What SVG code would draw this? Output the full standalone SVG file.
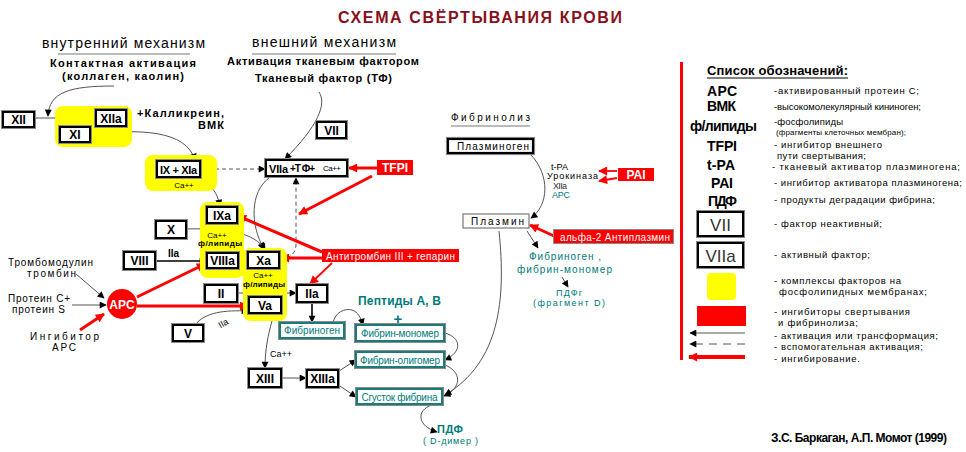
<svg xmlns="http://www.w3.org/2000/svg" width="966" height="452" viewBox="0 0 966 452">
<style>
text{font-family:"Liberation Sans",Arial,sans-serif;fill:#000}
.b{font-weight:bold}
.box{fill:#fff;stroke:#000;stroke-width:2;filter:url(#edge)}
.tbox{fill:#fff;stroke:#1a7a7a;stroke-width:2;filter:url(#edge)}
.yel{fill:#ffff00}
.red{fill:#ff0000}
.fl{font-weight:bold;font-size:12px;text-anchor:middle}
.sm{font-size:8px;text-anchor:middle}
.ln{fill:none;stroke:#555;stroke-width:1}
.blk{fill:none;stroke:#000;stroke-width:1.6}
.rl{fill:none;stroke:#ff0000;stroke-width:3}
.rt{fill:none;stroke:#ff0000;stroke-width:1.8}
.dsh{fill:none;stroke:#555;stroke-width:1;stroke-dasharray:4 3}
.teal{fill:#007a7a}
.tl{font-size:10px;fill:#007a7a}
.lg{font-size:9.5px}
.wt{fill:#fff}
.lbl{font-size:10px}
</style>
<defs>
<filter id="edge" x="-20%" y="-30%" width="140%" height="160%">
<feMorphology in="SourceAlpha" operator="dilate" radius="1.1" result="d"/>
<feFlood flood-color="#8a8a8a"/>
<feComposite in2="d" operator="in"/>
<feMerge><feMergeNode/><feMergeNode in="SourceGraphic"/></feMerge>
</filter>
<marker id="ab" viewBox="0 0 10 10" refX="9" refY="5" markerWidth="9" markerHeight="7" markerUnits="userSpaceOnUse" orient="auto-start-reverse"><path d="M0,0 L10,5 L0,10 z" fill="#000"/></marker>
<marker id="ar" viewBox="0 0 10 10" refX="9" refY="5" markerWidth="13" markerHeight="9" markerUnits="userSpaceOnUse" orient="auto-start-reverse"><path d="M0,0 L10,5 L0,10 z" fill="#ff0000"/></marker>
</defs>
<rect width="966" height="452" fill="#fff"/>

<text x="480" y="23" class="b" font-size="16" text-anchor="middle" textLength="284" style="fill:#861020">СХЕМА СВЁРТЫВАНИЯ КРОВИ</text>

<g id="headers">
<text x="42" y="48" font-size="14" textLength="163">внутренний механизм</text>
<line x1="58" y1="54" x2="190" y2="54" stroke="#777" stroke-width="1"/>
<text x="50" y="67" class="b" font-size="11" textLength="146">Контактная активация</text>
<text x="62" y="80" class="b" font-size="11" textLength="122">(коллаген, каолин)</text>
<text x="252" y="47" font-size="14" textLength="144">внешний механизм</text>
<line x1="252" y1="54" x2="396" y2="54" stroke="#777" stroke-width="1"/>
<text x="227" y="65" class="b" font-size="11" textLength="192">Активация тканевым фактором</text>
<text x="255" y="82" class="b" font-size="11" textLength="137">Тканевый фактор (ТФ)</text>
</g>

<g id="connectors">
<path class="ln" d="M114,86 C70,86 49,92 48,116" marker-end="url(#ab)"/>
<path class="ln" d="M34,118 L95,118" marker-end="url(#ab)"/>
<path class="ln" d="M91,134 C140,129 186,130 195,160" marker-start="url(#ab)" marker-end="url(#ab)"/>
<path class="ln" d="M319,92 C327,104 318,126 285,159" marker-end="url(#ab)"/>
<path class="dsh" d="M201,169 L265,169" marker-start="url(#ab)" marker-end="url(#ab)"/>
<path class="dsh" d="M287,258 Q296,254 296,244 L296,178" marker-end="url(#ab)"/>
<path class="ln" d="M269,178 C250,192 250,225 264,249" marker-end="url(#ab)"/>
<path class="ln" d="M186,229 C225,228 255,232 265,250" marker-end="url(#ab)"/>
<path class="ln" d="M180,178 C205,178 216,186 220,206" marker-end="url(#ab)"/>
<path class="blk" d="M155,261 L206,261" marker-end="url(#ab)"/>
<path class="ln" d="M76,274 L104,298" marker-end="url(#ab)"/>
<path class="ln" d="M72,305 L106,305" marker-end="url(#ab)"/>
<path class="ln" d="M195,325 C205,312 225,310 248,311" marker-end="url(#ab)"/>
<path class="ln" d="M237,293 L296,293" marker-end="url(#ab)"/>
<path class="blk" d="M312,302 L312,322" stroke-width="2" marker-end="url(#ab)"/>
<path class="ln" d="M272,321 C268,335 265,350 265,368" marker-end="url(#ab)"/>
<path class="ln" d="M281,378 L306,378" marker-end="url(#ab)"/>
<path class="ln" d="M339,371 L356,360" marker-end="url(#ab)"/>
<path class="ln" d="M340,386 L356,397" marker-end="url(#ab)"/>
<path class="ln" d="M333,323 C335,312 345,308 352,310 C358,312 361,318 363,325" marker-end="url(#ab)"/>
<path class="ln" d="M445,333 C462,338 462,352 445,360" marker-end="url(#ab)"/>
<path class="ln" d="M445,365 C462,372 462,388 444,396" marker-end="url(#ab)"/>
<path class="ln" d="M432,405 C416,410 417,426 437,432" marker-end="url(#ab)"/>
<path class="ln" d="M499,231 C506,300 500,362 445,395" marker-end="url(#ab)"/>
<path class="ln" d="M531,155 C550,175 549,205 531,218" marker-end="url(#ab)"/>
<path class="ln" d="M527,231 L538,248" marker-end="url(#ab)"/>
<path class="ln" d="M562,277 L568,287" marker-end="url(#ab)"/>
<path class="rl" d="M377,168 L349,168" marker-end="url(#ar)"/>
<path class="rl" d="M372,176 L299,214" marker-end="url(#ar)"/>
<path class="rl" d="M137,297 L205,264" marker-end="url(#ar)"/>
<path class="rl" d="M137,306 L248,306" marker-end="url(#ar)"/>
<path class="rl" d="M80,330 L104,314" marker-end="url(#ar)"/>
<path class="rl" d="M322,252 L238,216" marker-end="url(#ar)"/>
<path class="rl" d="M322,258 L281,258" marker-end="url(#ar)"/>
<path class="rt" d="M332,263 L310,284" marker-end="url(#ar)"/>
<path class="rt" d="M617,171 L599,171" marker-end="url(#ar)"/>
<path class="rt" d="M617,178 L599,181" marker-end="url(#ar)"/>
<path class="rl" d="M554,236 L530,225" marker-end="url(#ar)"/>
</g>

<g id="n-XII"><rect class="box" x="3" y="112" width="31" height="15"/><text class="fl" x="18.5" y="124">XII</text></g>
<g id="n-XIIa-XI">
<rect class="yel" x="55" y="106" width="77" height="41" rx="8"/>
<rect class="box" x="96" y="110" width="30" height="16"/><text class="fl" x="111" y="122.5">XIIa</text>
<rect class="box" x="60" y="127" width="30" height="15"/><text class="fl" x="75" y="139">XI</text>
</g>
<g id="n-kallikrein">
<text x="137" y="117" class="b" font-size="11" textLength="87">+Калликреин,</text>
<text x="198" y="129" class="b" font-size="11" textLength="26">ВМК</text>
</g>
<g id="n-IX-XIa">
<rect class="yel" x="145" y="155" width="72" height="36" rx="8"/>
<rect class="box" x="157" y="161" width="43" height="16"/><text x="160" y="173.5" class="b" font-size="11" textLength="37">IX + XIa</text>
<text class="sm" x="184" y="188">Ca++</text>
</g>
<g id="n-VII"><rect class="box" x="317" y="122" width="29" height="16"/><text class="fl" x="331.5" y="134.5">VII</text></g>
<g id="n-VIIa-TF">
<rect class="box" x="266" y="160" width="81" height="16"/>
<text x="269" y="172.5" class="b" font-size="11" textLength="19">VIIa</text>
<text x="290" y="172" class="b" font-size="10" textLength="25">+Т Ф+</text>
<text x="323" y="171" font-size="8" textLength="18">Ca++</text>
</g>
<g id="n-TFPI"><rect class="red" x="377" y="160" width="36" height="15"/><text class="fl wt" x="395" y="172">TFPI</text></g>
<g id="n-complex">
<rect class="yel" x="200" y="202" width="44" height="76" rx="8"/>
<rect class="yel" x="243" y="248" width="44" height="73" rx="8"/>
<rect class="yel" x="236" y="250" width="12" height="26"/>
<rect class="box" x="207" y="207" width="30" height="16"/><text class="fl" x="222" y="219.5">IXa</text>
<text class="sm" x="217" y="238">Ca++</text>
<text x="198" y="246" class="b" font-size="8" textLength="44">ф/липиды</text>
<rect class="box" x="207" y="253" width="31" height="15"/><text class="fl" x="222.5" y="265">VIIIa</text>
<rect class="box" x="248" y="252" width="31" height="16"/><text class="fl" x="263.5" y="264.5">Xa</text>
<text class="sm" x="263" y="278">Ca++</text>
<text x="243" y="287" class="b" font-size="8" textLength="42">ф/липиды</text>
<rect class="box" x="249" y="297" width="32" height="16"/><text class="fl" x="265" y="309.5">Va</text>
</g>
<g id="n-X"><rect class="box" x="156" y="221" width="30" height="17"/><text class="fl" x="171" y="234">X</text></g>
<g id="n-VIII"><rect class="box" x="124" y="252" width="31" height="17"/><text class="fl" x="139.5" y="265">VIII</text>
<text x="168" y="257" class="b" font-size="10">IIa</text></g>
<g id="n-II"><rect class="box" x="205" y="285" width="32" height="17"/><text class="fl" x="221" y="298">II</text></g>
<g id="n-IIa"><rect class="box" x="297" y="285" width="30" height="17"/><text class="fl" x="312" y="298">IIa</text></g>
<g id="n-V"><rect class="box" x="173" y="325" width="30" height="16"/><text class="fl" x="188" y="337.5">V</text>
<text x="218" y="327" font-size="9" transform="rotate(-30 222 323)">IIa</text></g>
<g id="n-APC"><circle cx="122" cy="304" r="15" fill="#ff0000"/><text class="fl wt" x="122" y="308.5">APC</text></g>
<g id="n-regulators">
<text x="8" y="266" class="lbl" textLength="85">Тромбомодулин</text>
<text x="27" y="277" class="lbl" textLength="49">тромбин</text>
<text x="8" y="302" class="lbl" textLength="62">Протеин С+</text>
<text x="12" y="313" class="lbl" textLength="53">протеин S</text>
<text x="30" y="340" class="lbl" textLength="69">Ингибитор</text>
<text x="52" y="351" class="lbl" textLength="24">АРС</text>
</g>
<g id="n-AT"><rect class="red" x="322" y="249" width="137" height="13"/><text x="326" y="259.5" class="wt" font-size="10" textLength="129">Антитромбин III + гепарин</text></g>
<g id="n-peptides">
<text x="358" y="305" class="b teal" font-size="12" textLength="83">Пептиды А, В</text>
<text x="398" y="324" class="b teal" font-size="15" text-anchor="middle">+</text>
</g>
<g id="n-fibrinogen"><rect class="tbox" x="280" y="323" width="64" height="15"/><text class="tl" x="312" y="334" text-anchor="middle" textLength="56">Фибриноген</text></g>
<g id="n-fmono"><rect class="tbox" x="356" y="325" width="88" height="16"/><text class="tl" x="400" y="337" text-anchor="middle" textLength="78">Фибрин-мономер</text></g>
<g id="n-folig"><rect class="tbox" x="356" y="352" width="88" height="15"/><text class="tl" x="400" y="363.5" text-anchor="middle" textLength="80">Фибрин-олигомер</text></g>
<g id="n-XIII"><rect class="box" x="249" y="369" width="32" height="18"/><text class="fl" x="265" y="382.5">XIII</text>
<text x="270" y="357" font-size="9">Ca++</text></g>
<g id="n-XIIIa"><rect class="box" x="307" y="370" width="31" height="17"/><text class="fl" x="322.5" y="383">XIIIa</text></g>
<g id="n-clot"><rect class="tbox" x="357" y="389" width="85" height="15"/><text class="tl" x="399.5" y="400.5" text-anchor="middle" textLength="76">Сгусток фибрина</text></g>
<g id="n-PDF">
<text x="437" y="433" class="b teal" font-size="11" textLength="26">ПДФ</text>
<text x="423" y="444" font-size="9" textLength="55" style="fill:#007a7a">( D-димер )</text>
</g>

<g id="n-fibrinolysis">
<text x="451" y="121" font-size="10" textLength="79">Фибринолиз</text>
<line x1="451" y1="126" x2="530" y2="126" stroke="#777" stroke-width="1"/>
</g>
<g id="n-plasminogen"><rect x="448" y="139" width="85" height="14" fill="#fff" stroke="#000" stroke-width="2.2" style="filter:url(#edge)"/><text x="457" y="150" font-size="10" textLength="72">Плазминоген</text></g>
<g id="n-activators">
<text x="551" y="170" font-size="9" textLength="17">t-PA</text>
<text x="547" y="179" font-size="9" textLength="51">Урокиназа</text>
<text x="553" y="189" font-size="9" textLength="14" style="fill:#333">XIIa</text>
<text x="552" y="198" font-size="9" textLength="18" style="fill:#007a7a">APC</text>
</g>
<g id="n-PAI"><rect class="red" x="618" y="168" width="36" height="13"/><text class="fl wt" x="636" y="179" font-size="13">PAI</text></g>
<g id="n-plasmin"><rect x="463" y="214" width="66" height="14" fill="#fff" stroke="#777" stroke-width="1.2"/><text x="471" y="225" font-size="10" textLength="53">Плазмин</text></g>
<g id="n-antiplasmin"><rect class="red" x="554" y="230" width="119" height="13" style="filter:url(#edge)"/><text x="560" y="240.5" class="wt" font-size="10" textLength="110">альфа-2 Антиплазмин</text></g>
<g id="n-fdp-products">
<text x="529" y="260" class="tl" textLength="72">Фибриноген ,</text>
<text x="517" y="273" class="tl" textLength="95">фибрин-мономер</text>
<text x="556" y="296" font-size="9" textLength="26" style="fill:#007a7a">ПДФг</text>
<text x="533" y="306" font-size="9" textLength="72" style="fill:#007a7a">(фрагмент D)</text>
</g>

<g id="legend">
<rect x="680" y="62" width="3" height="298" fill="#ff0000"/>
<text x="707" y="75" class="b" font-size="13" textLength="141">Список обозначений:</text>
<line x1="707" y1="78" x2="848" y2="78" stroke="#000" stroke-width="1"/>
<g class="b" font-size="14">
<text x="707" y="96" textLength="30">АРС</text>
<text x="707" y="111" textLength="29">ВМК</text>
<text x="690" y="131" textLength="67">ф/липиды</text>
<text x="707" y="151" textLength="30">TFPI</text>
<text x="707" y="170" textLength="28">t-PA</text>
<text x="711" y="188" textLength="22">PAI</text>
<text x="708" y="206" textLength="29">ПДФ</text>
</g>
<rect x="698" y="212" width="45" height="24" fill="#fff" stroke="#000" stroke-width="2" style="filter:url(#edge)"/>
<text x="720.5" y="231" font-size="17" text-anchor="middle" style="fill:#333">VII</text>
<rect x="698" y="243" width="45" height="24" fill="#fff" stroke="#000" stroke-width="2" style="filter:url(#edge)"/>
<text x="720.5" y="262" font-size="17" text-anchor="middle" style="fill:#333">VIIa</text>
<rect class="yel" x="707" y="273" width="29" height="27" rx="4"/>
<rect class="red" x="697" y="306" width="49" height="20"/>
<line x1="745" y1="333" x2="690" y2="333" stroke="#555" stroke-width="1" marker-end="url(#ab)"/>
<line x1="745" y1="344" x2="690" y2="344" stroke="#555" stroke-width="1" stroke-dasharray="8 6" marker-end="url(#ab)"/>
<line x1="745" y1="357" x2="689" y2="357" stroke="#ff0000" stroke-width="4" marker-end="url(#ar)"/>
<g class="lg">
<text x="774" y="94" textLength="145">-активированный протеин С;</text>
<text x="774" y="110" textLength="147">-высокомолекулярный кининоген;</text>
<text x="774" y="125" textLength="69">-фосфолипиды</text>
<text x="776" y="135" font-size="8" textLength="130">(фрагменты клеточных мембран);</text>
<text x="774" y="148" textLength="108">- ингибитор внешнего</text>
<text x="777" y="159" textLength="89">пути свертывания;</text>
<text x="772" y="170" textLength="188">- тканевый активатор плазминогена;</text>
<text x="774" y="186" textLength="188">- ингибитор активатора плазминогена;</text>
<text x="774" y="203" textLength="161">- продукты деградации фибрина;</text>
<text x="774" y="227" textLength="108">- фактор неактивный;</text>
<text x="774" y="258" textLength="96">- активный фактор;</text>
<text x="774" y="284" textLength="127">- комплексы факторов на</text>
<text x="779" y="295" textLength="148">фосфолипидных мембранах;</text>
<text x="774" y="315" textLength="136">- ингибиторы свертывания</text>
<text x="778" y="326" textLength="80">и фибринолиза;</text>
<text x="774" y="339" textLength="164">- активация или трансформация;</text>
<text x="774" y="350" textLength="149">- вспомогательная активация;</text>
<text x="774" y="362" textLength="86">- ингибирование.</text>
</g>
</g>
<text id="author" x="771" y="442" class="b" font-size="12" textLength="176">З.С. Баркаган, А.П. Момот (1999)</text>
</svg>
